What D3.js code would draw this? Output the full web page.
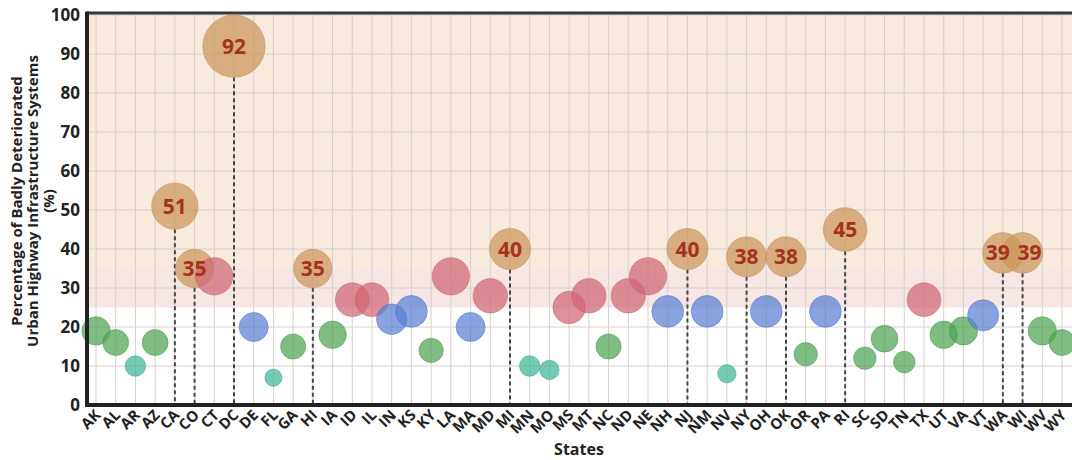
<!DOCTYPE html>
<html>
<head>
<meta charset="utf-8">
<script src="https://cdn.jsdelivr.net/npm/d3@7"></script>
<style>
  html, body { margin: 0; padding: 0; background: #fff; }
  svg { display: block; font-family: "Open Sans", "DejaVu Sans", sans-serif; }
</style>
</head>
<body>
<svg id="chart" width="1072" height="460"></svg>
<script>
// ---- data ----
const states = ["AK","AL","AR","AZ","CA","CO","CT","DC","DE","FL","GA","HI","IA","ID","IL","IN","KS","KY","LA","MA","MD","MI","MN","MO","MS","MT","NC","ND","NE","NH","NJ","NM","NV","NY","OH","OK","OR","PA","RI","SC","SD","TN","TX","UT","VA","VT","WA","WI","WV","WY"];
const values = [19,16,10,16,51,35,33,92,20,7,15,35,18,27,27,22,24,14,33,20,28,40,10,9,25,28,15,28,33,24,40,24,8,38,24,38,13,24,45,12,17,11,27,18,19,23,39,39,19,16];
const yTicks = [0,10,20,30,40,50,60,70,80,90,100];
const bandBreaks = [25, 35, 100];

// ---- layout ----
const svg = d3.select("#chart");
const pL = 87, pR = 1072, pT = 14, pB = 405;

const x = d3.scalePoint().domain(states).range([96, 1062]);
const y = d3.scaleLinear().domain([0, 100]).range([pB, 15]);
const r = d3.scaleSqrt().domain([0, 100]).range([0, 32.5]);

function cat(v) {
  if (v >= 35) return "orange";
  if (v >= 25) return "pink";
  if (v >= 20) return "blue";
  if (v > 10) return "green";
  return "teal";
}
const fills = { orange: "#cc955a", pink: "#d06674", blue: "#5a80d4", green: "#4ea453", teal: "#3fb596" };
const strokes = { orange: "#bf8a55", pink: "#c45f6c", blue: "#5073c4", green: "#46954b", teal: "#38a287" };

// background bands
svg.append("rect").attr("x", pL).attr("y", pT).attr("width", pR - pL)
  .attr("height", y(bandBreaks[1]) - pT).attr("fill", "#f8eadd");
svg.append("rect").attr("x", pL).attr("y", y(bandBreaks[1])).attr("width", pR - pL)
  .attr("height", y(bandBreaks[0]) - y(bandBreaks[1])).attr("fill", "#f6e6e4");

// gridlines
const grid = svg.append("g");
grid.selectAll("line.v").data(states).join("line")
  .attr("x1", d => x(d)).attr("x2", d => x(d)).attr("y1", pT).attr("y2", pB)
  .attr("stroke", "#d6d0cc").attr("stroke-width", 1);
grid.selectAll("line.h").data(yTicks.slice(1)).join("line")
  .attr("x1", pL).attr("x2", pR).attr("y1", d => y(d)).attr("y2", d => y(d))
  .attr("stroke", "#d6d0cc").attr("stroke-width", 1);

const data = states.map((s, i) => ({ s, i, v: values[i], c: cat(values[i]) }));

// dashed lines for orange
svg.append("g").selectAll("line").data(data.filter(d => d.c === "orange")).join("line")
  .attr("x1", d => x(d.s)).attr("x2", d => x(d.s))
  .attr("y1", d => y(d.v) + r(d.v)).attr("y2", pB)
  .attr("stroke", "#444").attr("stroke-width", 2).attr("stroke-dasharray", "4,3");

// bubbles
svg.append("g").selectAll("circle").data(data).join("circle")
  .attr("cx", d => x(d.s)).attr("cy", d => y(d.v)).attr("r", d => r(d.v))
  .attr("fill", d => fills[d.c]).attr("fill-opacity", 0.72)
  .attr("stroke", d => strokes[d.c]).attr("stroke-opacity", 0.5).attr("stroke-width", 1);

// labels for orange, nudging apart neighbouring labels at nearly equal height
const lab = data.filter(d => d.c === "orange");
lab.forEach(d => d.dx = 0);
for (let k = 1; k < lab.length; k++) {
  const a = lab[k - 1], b = lab[k];
  if (b.i - a.i === 1 && Math.abs(b.v - a.v) < 3) { a.dx -= 5; b.dx += 7; }
}
svg.append("g").selectAll("text").data(lab).join("text")
  .attr("x", d => x(d.s) + d.dx).attr("y", d => y(d.v)).attr("dy", "0.36em")
  .attr("text-anchor", "middle").attr("font-weight", "bold").attr("font-size", 21)
  .attr("fill", "#a53220").text(d => d.v);

// frame: top border
svg.append("line").attr("x1", pL).attr("x2", pR).attr("y1", pT - 1).attr("y2", pT - 1)
  .attr("stroke", "#3a3a3a").attr("stroke-width", 3);

// y axis
const yAxis = d3.axisLeft(y).tickValues(yTicks).tickSize(0).tickPadding(7);
const gy = svg.append("g").attr("transform", `translate(${pL},0)`).call(yAxis);
gy.select(".domain").remove();
gy.selectAll("text").attr("font-size", 17).attr("font-weight", "bold").attr("fill", "#222")
  .attr("font-family", "'Open Sans', sans-serif");
svg.append("line").attr("x1", pL).attr("x2", pL).attr("y1", pT - 2.5).attr("y2", pB + 2)
  .attr("stroke", "#222").attr("stroke-width", 4);

// x axis
const xAxis = d3.axisBottom(x).tickSize(0).tickPadding(0);
const gx = svg.append("g").attr("transform", `translate(0,${pB})`).call(xAxis);
gx.select(".domain").remove();
gx.selectAll("text")
  .attr("font-size", 15).attr("font-weight", "bold").attr("fill", "#222")
  .attr("font-family", "'Open Sans', sans-serif")
  .attr("text-anchor", "end").attr("dy", null).attr("y", 0)
  .attr("transform", "translate(5,11) rotate(-45)");
svg.append("line").attr("x1", pL - 2).attr("x2", pR).attr("y1", pB).attr("y2", pB)
  .attr("stroke", "#222").attr("stroke-width", 4);

// axis titles
svg.append("text").attr("x", 579).attr("y", 455).attr("text-anchor", "middle")
  .attr("font-size", 16).attr("font-weight", "bold").attr("fill", "#222").text("States");

const yl = svg.append("text").attr("transform", "translate(0,201) rotate(-90)")
  .attr("text-anchor", "middle").attr("font-size", 15).attr("font-weight", "bold").attr("fill", "#222");
["Percentage of Badly Deteriorated", "Urban Highway Infrastructure Systems", "(%)"].forEach((t, i) => {
  yl.append("tspan").attr("x", 0).attr("y", 22 + i * 16).text(t);
});
</script>
</body>
</html>
